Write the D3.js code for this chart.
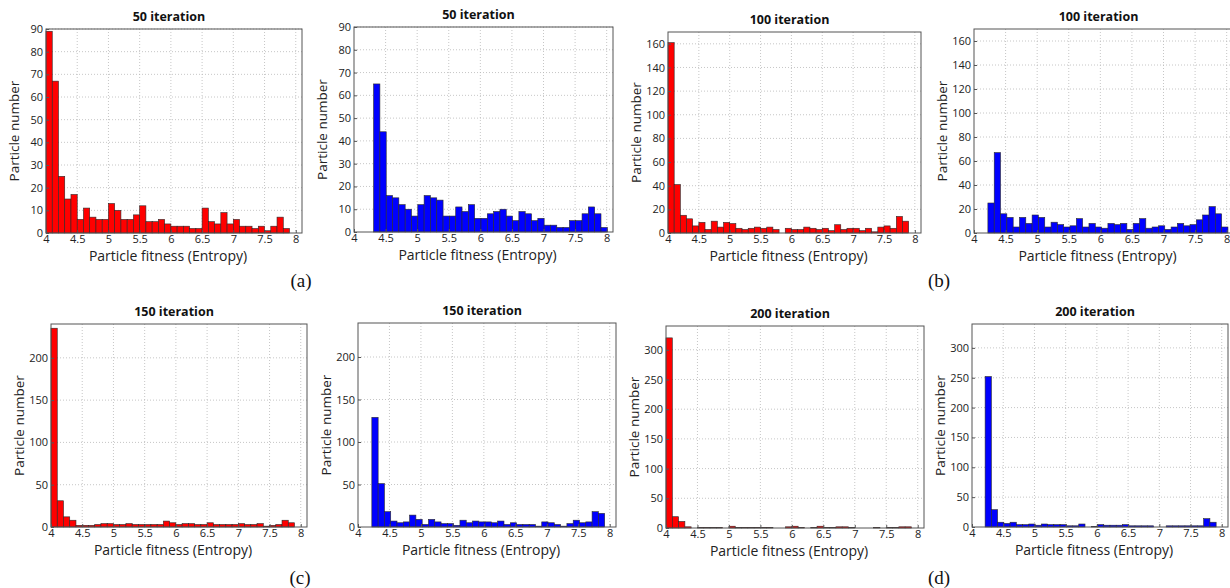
<!DOCTYPE html>
<html>
<head>
<meta charset="utf-8">
<script src="https://cdn.jsdelivr.net/npm/d3@7"></script>
<style>
  body { margin: 0; background: #fff; }
  svg { display: block; }
</style>
</head>
<body>
<svg width="1230" height="588"></svg>
<script>
// histogram counts, one value per 0.1-wide bin
const iter50Red = [89,67,25,15,17,6,11,7,6,6,13,10,6,6,8,12,5,5,6,4,3,3,3,2,2,11,5,4,9,4,6,3,3,2,3,1,3,7,2];
const iter50Blue = [65,44,16,15,12,10,7,12,16,15,14,7,7,11,9,12,6,6,8,9,10,7,5,9,8,5,6,3,3,2,2,5,5,8,11,8,2];
const iter100Red = [161,41,15,12,6,9,3,10,5,9,8,4,3,4,5,4,5,3,0,4,3,3,5,4,3,4,2,7,3,4,4,2,4,1,5,6,4,14,10];
const iter100Blue = [25,67,16,13,5,13,8,15,13,5,9,7,5,6,12,5,8,5,4,8,7,8,3,8,12,4,5,6,3,5,8,6,7,11,15,22,16,5];
const iter150Red = [235,31,12,8,2,2,2,3,4,4,3,3,4,3,3,3,3,3,7,5,3,4,4,3,3,5,3,3,3,3,4,3,3,4,1,2,3,8,5];
const iter150Blue = [129,51,18,7,5,6,14,9,3,9,6,4,4,2,8,5,7,6,6,5,7,3,5,3,3,3,1,6,5,3,1,4,8,5,6,18,16];
const iter200Red = [320,19,11,2,0,1,1,1,1,0,3,1,1,1,1,1,1,0,0,2,3,1,0,1,3,1,1,2,2,1,0,0,0,1,0,1,1,2,2];
const iter200Blue = [252,29,8,6,8,4,4,5,3,5,4,4,4,2,2,5,0,1,4,3,3,3,4,2,2,2,2,0,0,2,2,2,2,2,2,14,8];

// first bin edge of each histogram
const binStarts = [4.0, 4.31, 4.0, 4.22, 4.0, 4.22, 4.0, 4.21];
const binWidth = 0.1;

const titles = ['50 iteration', '50 iteration', '100 iteration', '100 iteration',
                '150 iteration', '150 iteration', '200 iteration', '200 iteration'];
const yMaxes = [90, 90, 170, 170, 240, 240, 340, 340];
const yTickSets = [
  d3.range(0, 91, 10), d3.range(0, 91, 10),
  d3.range(0, 161, 20), d3.range(0, 161, 20),
  [0, 50, 100, 150, 200], [0, 50, 100, 150, 200],
  d3.range(0, 301, 50), d3.range(0, 301, 50)
];
const xTicks = [4, 4.5, 5, 5.5, 6, 6.5, 7, 7.5, 8];
const series = [iter50Red, iter50Blue, iter100Red, iter100Blue,
                iter150Red, iter150Blue, iter200Red, iter200Blue];
const colors = ['#ff0000', '#0000ff', '#ff0000', '#0000ff',
                '#ff0000', '#0000ff', '#ff0000', '#0000ff'];
const subLabels = ['(a)', '(b)', '(c)', '(d)'];

// box of each panel: left edge is x = 4
const layout = [
  {left: 46, top: 29, w: 256, h: 204},
  {left: 354, top: 27, w: 259, h: 205},
  {left: 668, top: 32, w: 253, h: 201},
  {left: 974, top: 29, w: 259, h: 204},
  {left: 51, top: 324, w: 256, h: 203},
  {left: 358, top: 323, w: 258, h: 204},
  {left: 666, top: 326, w: 258, h: 202},
  {left: 972, top: 324, w: 256, h: 203}
];
const subPos = [[301, 287], [939, 287], [300, 584], [939, 584]];

const svg = d3.select('svg');
const font = '"Open Sans", "Noto Sans", sans-serif';

series.forEach((values, i) => {
  const L = layout[i];
  const g = svg.append('g').attr('transform', `translate(${L.left},${L.top})`);

  const x = d3.scaleLinear().domain([4, 8.1]).range([0, L.w]);
  const y = d3.scaleLinear().domain([0, yMaxes[i]]).range([L.h, 0]);

  // dotted grid
  g.append('g').selectAll('line')
    .data(xTicks.filter(t => t > 4))
    .enter().append('line')
    .attr('x1', d => x(d)).attr('x2', d => x(d))
    .attr('y1', 0).attr('y2', L.h)
    .attr('stroke', '#b8b8b8').attr('stroke-width', 0.8)
    .attr('stroke-dasharray', '1,2');
  g.append('g').selectAll('line')
    .data(yTickSets[i].filter(t => t > 0))
    .enter().append('line')
    .attr('x1', 0).attr('x2', L.w)
    .attr('y1', d => y(d)).attr('y2', d => y(d))
    .attr('stroke', '#b8b8b8').attr('stroke-width', 0.8)
    .attr('stroke-dasharray', '1,2');

  // bars
  g.append('g').selectAll('rect')
    .data(values)
    .enter().append('rect')
    .attr('x', (d, k) => x(binStarts[i] + k * binWidth))
    .attr('width', x(4 + binWidth) - x(4))
    .attr('y', d => y(d))
    .attr('height', d => L.h - y(d))
    .attr('fill', colors[i])
    .attr('stroke', d => d > 0 ? '#2a2a2a' : 'none')
    .attr('stroke-width', 0.6);

  // axes
  const xAxis = g.append('g')
    .attr('transform', `translate(0,${L.h})`)
    .call(d3.axisBottom(x).tickValues(xTicks).tickFormat(d3.format('~g'))
      .tickSizeInner(-3).tickSizeOuter(0).tickPadding(2));
  const yAxis = g.append('g')
    .call(d3.axisLeft(y).tickValues(yTickSets[i]).tickFormat(d3.format('d'))
      .tickSizeInner(-3).tickSizeOuter(0).tickPadding(3));
  [xAxis, yAxis].forEach(a => {
    a.select('.domain').remove();
    a.selectAll('line').attr('stroke', '#555');
    a.selectAll('text').attr('font-family', font).attr('font-size', 11).attr('fill', '#222');
  });

  // box
  g.append('rect')
    .attr('width', L.w).attr('height', L.h)
    .attr('fill', 'none').attr('stroke', '#555').attr('stroke-width', 1);

  // title and labels
  g.append('text')
    .attr('x', L.w / 2 - 5).attr('y', -8)
    .attr('text-anchor', 'middle')
    .attr('font-family', font).attr('font-weight', 'bold').attr('font-size', 12.5)
    .attr('fill', '#111')
    .text(titles[i]);
  g.append('text')
    .attr('x', L.w / 2 - 6).attr('y', L.h + 28)
    .attr('text-anchor', 'middle')
    .attr('font-family', font).attr('font-size', 14)
    .attr('fill', '#222')
    .text('Particle fitness (Entropy)');
  g.append('text')
    .attr('transform', `translate(-27,${L.h / 2}) rotate(-90)`)
    .attr('text-anchor', 'middle')
    .attr('font-family', font).attr('font-size', 13.5)
    .attr('fill', '#222')
    .text('Particle number');
});

svg.append('g').selectAll('text')
  .data(subLabels)
  .enter().append('text')
  .attr('x', (d, k) => subPos[k][0])
  .attr('y', (d, k) => subPos[k][1])
  .attr('text-anchor', 'middle')
  .attr('font-family', '"Liberation Serif", serif')
  .attr('font-size', 19)
  .attr('fill', '#111')
  .text(d => d);
</script>
</body>
</html>
